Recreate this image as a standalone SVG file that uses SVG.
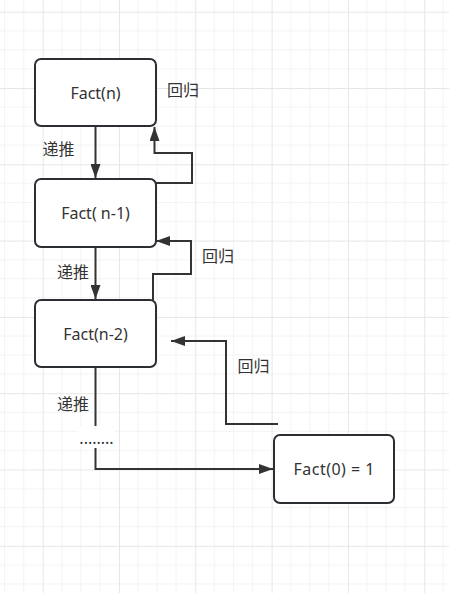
<svg xmlns="http://www.w3.org/2000/svg" width="449" height="593" viewBox="0 0 449 593">
<defs>
<pattern id="grid" x="42.7" y="11.7" width="76.3" height="76.3" patternUnits="userSpaceOnUse">
<path d="M19.075 0V76.3M38.15 0V76.3M57.225 0V76.3M0 19.075H76.3M0 38.15H76.3M0 57.225H76.3" stroke="#f3f3f3" stroke-width="1" fill="none"/>
<path d="M0.5 0V76.3M0 0.5H76.3" stroke="#e6e6e6" stroke-width="1" fill="none"/>
</pattern>
<marker id="arr" viewBox="0 0 14 10" refX="14" refY="5" markerWidth="14" markerHeight="10" markerUnits="userSpaceOnUse" orient="auto">
<path d="M0 0L14 5L0 10Z" fill="#333"/>
</marker>
<style>
.box{fill:#fff;stroke:#2b2f33;stroke-width:2}
.t{font-family:"Noto Sans","Noto Sans CJK SC",sans-serif;font-size:16px;fill:#333;text-anchor:middle;dominant-baseline:central}
.c{fill:none;stroke:#333;stroke-width:2}
</style>
</defs>
<rect width="449" height="593" fill="#fff"/>
<rect width="449" height="593" fill="url(#grid)"/>
<g id="connectors">
<path class="c" d="M95.5 126V178" marker-end="url(#arr)"/>
<path class="c" d="M156 183H192V153H154.5V127" marker-end="url(#arr)"/>
<path class="c" d="M95.5 247V299" marker-end="url(#arr)"/>
<path class="c" d="M153 300V274H191V241H156" marker-end="url(#arr)"/>
<path class="c" d="M278 424H226V341H171" marker-end="url(#arr)"/>
<path class="c" d="M95.5 367V426"/>
<path class="c" d="M95.5 448V469H273" marker-end="url(#arr)"/>
</g>
<g id="n1"><rect class="box" x="35" y="59" width="121" height="67" rx="6"/><text class="t" x="95.5" y="92.5">Fact(n)</text></g>
<g id="n2"><rect class="box" x="35" y="179" width="121" height="68" rx="6"/><text class="t" x="95.5" y="213">Fact( n-1)</text></g>
<g id="n3"><rect class="box" x="35" y="300" width="121" height="67" rx="6"/><text class="t" x="95.5" y="333.5">Fact(n-2)</text></g>
<g id="n4"><rect class="box" x="274" y="435" width="120" height="68" rx="6"/><text class="t" x="334" y="469" textLength="81" lengthAdjust="spacing">Fact(0) = 1</text></g>
<g id="labels">
<text class="t" x="183" y="90">回归</text>
<text class="t" x="58.5" y="149">递推</text>
<text class="t" x="218" y="256">回归</text>
<text class="t" x="73" y="271.5">递推</text>
<text class="t" x="253.5" y="366">回归</text>
<text class="t" x="73" y="404">递推</text>
<rect x="78" y="426" width="37" height="22" fill="#fff"/>
<text class="t" x="96.5" y="438">........</text>
</g>
</svg>
